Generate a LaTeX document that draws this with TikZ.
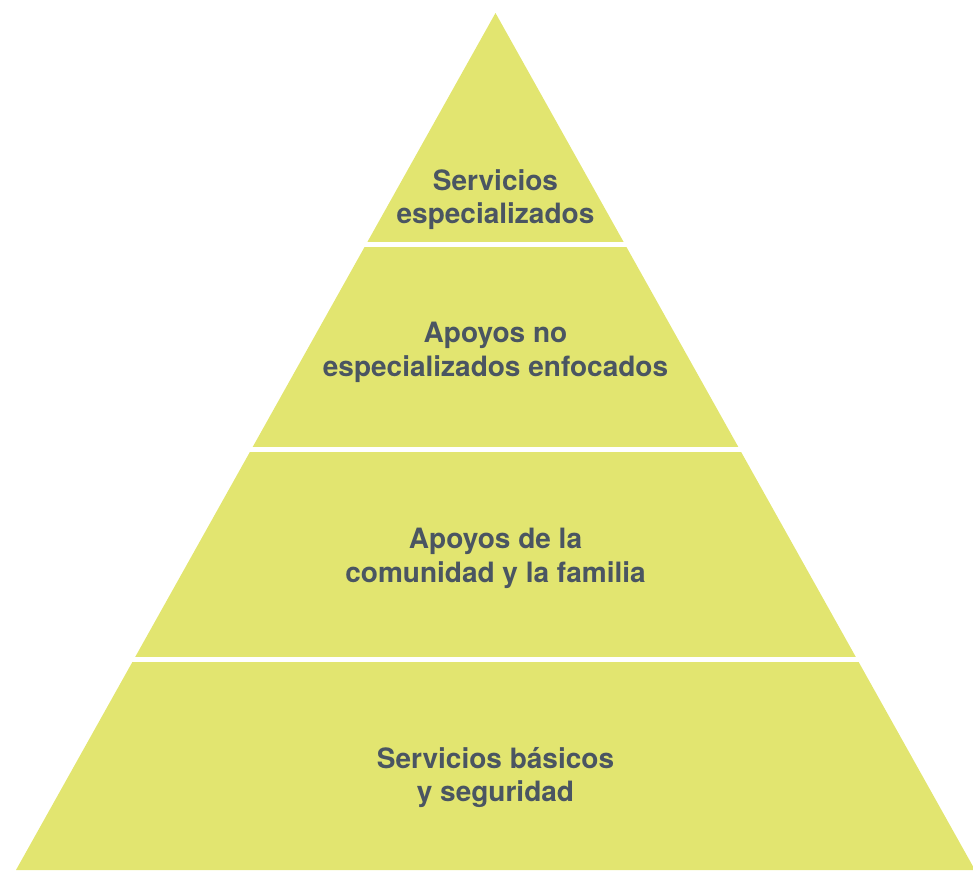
\documentclass[tikz,border=0pt]{standalone}
\usepackage{fontspec}
\setmainfont{TeX Gyre Heros}
\definecolor{pyrgreen}{HTML}{E2E570}
\definecolor{slategray}{HTML}{4A5562}
\tikzset{
  level/.style={font=\bfseries\fontsize{28}{33.5}\selectfont,text=slategray,align=center},
  gap/.style={white,line width=4.5pt}
}

\begin{document}
\begin{tikzpicture}[x=1pt,y=1pt]
        \useasboundingbox (0,0) rectangle (973,870);
        \coordinate(T) at (495.5,857);
        \coordinate(L) at (16,0);
        \coordinate(R) at (975,0);
        \fill[pyrgreen] (L)--(T)--(R)--cycle;
        % white gaps between the levels
        \foreach \y in {625.3,420.3,210.3}
            \draw[gap] (0,\y)--(973,\y);
        \node[level] (top) at (495.5,670.5) {Servicios\\especializados};
        \node[level] (upper) at (495.5,517.5) {Apoyos no\\especializados enfocados};
        \node[level] (lower) at (495.5,311.5) {Apoyos de la\\comunidad y la familia};
        \node[level] (base) at (495.5,92.5) {Servicios básicos\\y seguridad};
    \end{tikzpicture}
\end{document}
